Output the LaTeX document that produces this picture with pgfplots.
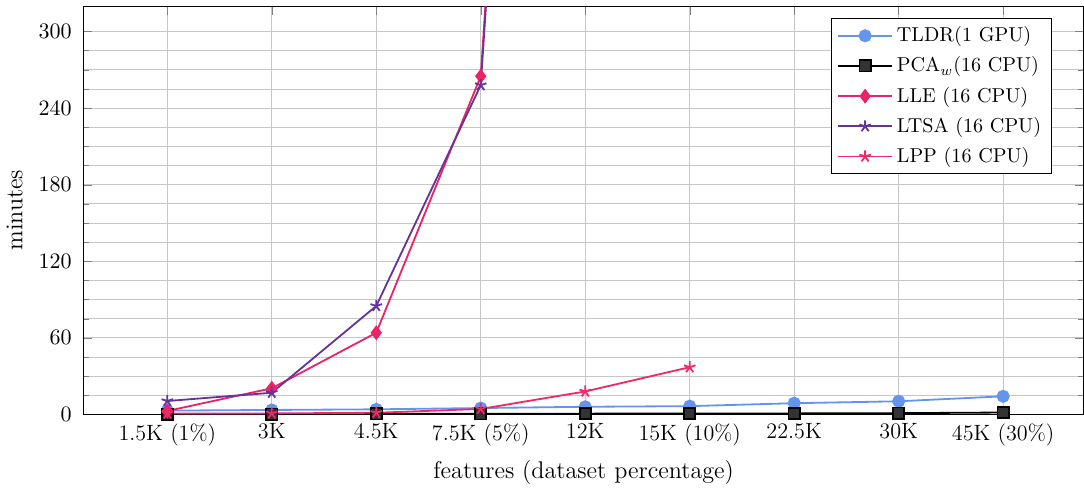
\documentclass[border=0pt]{standalone}
\usepackage{pgfplots}
\pgfplotsset{compat=1.18}
\definecolor{tldr}{RGB}{100,149,237}
\definecolor{lle}{RGB}{235,35,100}
\definecolor{ltsa}{RGB}{102,51,153}
\definecolor{lpp}{RGB}{240,40,100}
\begin{document}
\begin{tikzpicture}
\begin{axis}[
  name=ax,
  scale only axis,
  width=497pt, height=203pt,
  xmin=-0.8, xmax=8.77,
  ymin=0, ymax=320,
  xtick={0,1,2,3,4,5,6,7,8},
  xticklabels={1.5K (1\%),3K,4.5K,7.5K (5\%),12K,15K (10\%),22.5K,30K,45K (30\%)},
  ytick={0,60,120,180,240,300},
  minor y tick num=3,
  grid=both,
  major grid style={gray!45},
  minor grid style={gray!45},
  xlabel={features (dataset percentage)},
  ylabel={minutes},
  tick label style={font=\fontsize{11}{13}\selectfont},
  label style={font=\large},
  xticklabel style={yshift=-1pt},
  yticklabel style={xshift=-2.5pt},
  xlabel style={yshift=-0.5pt},
  ylabel style={yshift=1pt},
  legend style={at={(0.968,0.97)},anchor=north east, draw=black, fill=white, font=\normalsize, row sep=2pt},
  legend cell align=left,
  legend image code/.code={\draw[mark repeat=2,mark phase=2] plot coordinates {(0cm,0cm) (0.47cm,0cm) (0.94cm,0cm)};},
  every axis plot/.append style={line width=0.9pt},
]
\addplot[color=tldr, mark=*, mark size=2.8pt] coordinates {
 (0,3) (1,3.5) (2,4) (3,5) (4,6) (5,6.5) (6,8.8) (7,10.3) (8,14.2)};
\addlegendentry{TLDR(1 GPU)}
\addplot[color=black, mark=square*, mark size=2.8pt, mark options={fill=black!80}] coordinates {
 (0,0.3) (1,0.3) (2,0.4) (3,0.5) (4,0.6) (5,0.7) (6,0.8) (7,1) (8,1.5)};
\addlegendentry{PCA$_w$(16 CPU)}
\addplot[color=lle, mark=diamond*, mark size=3pt] coordinates {
 (0,2.7) (1,20.5) (2,64) (3,265) (4,1500)};
\addlegendentry{LLE (16 CPU)}
\addplot[color=ltsa, mark=star, mark size=3pt] coordinates {
 (0,10.5) (1,17) (2,85) (3,258) (4,1500)};
\addlegendentry{LTSA (16 CPU)}
\addplot[color=lpp, mark=star, mark size=3pt] coordinates {
 (0,0.8) (1,0.8) (2,1.3) (3,4.3) (4,18) (5,37)};
\addlegendentry{LPP (16 CPU)}
\end{axis}
\path ([yshift=3pt]ax.north);
\end{tikzpicture}
\end{document}
